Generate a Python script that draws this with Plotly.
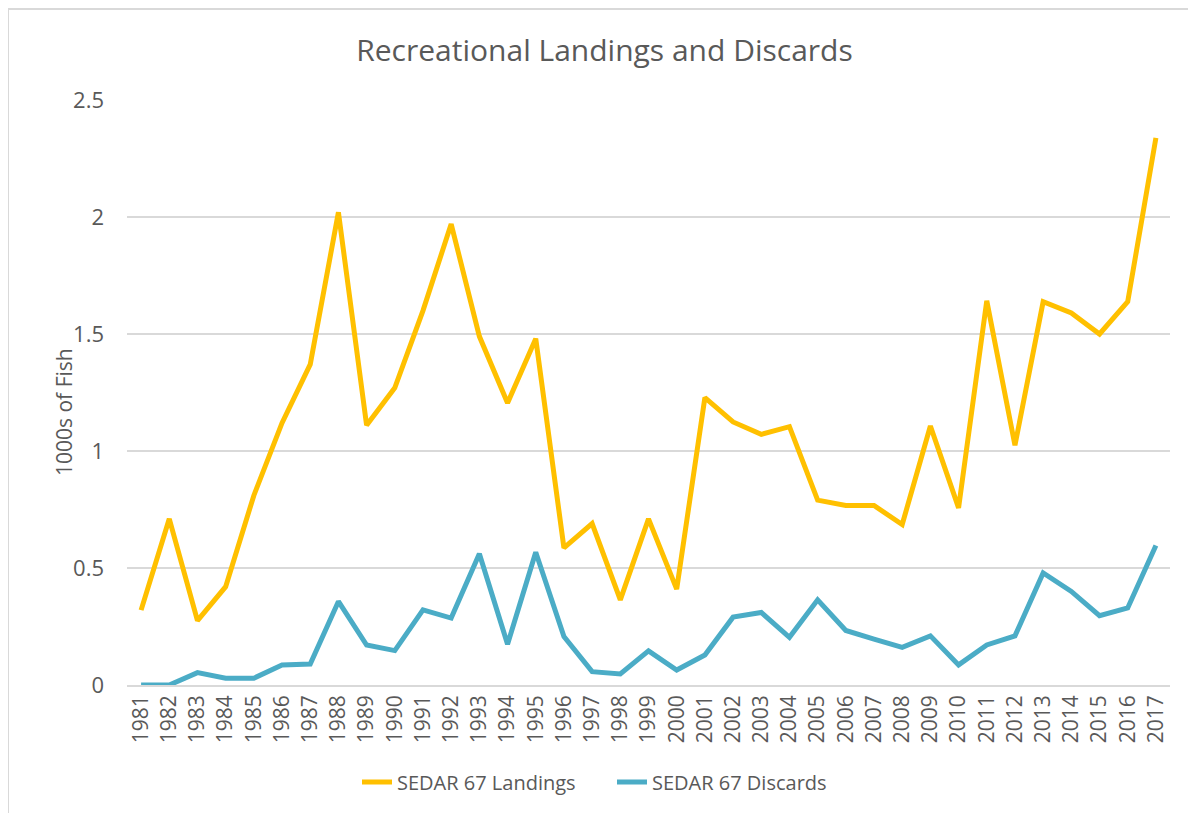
import plotly.graph_objects as go

years = list(range(1981, 2018))
landings = [0.32, 0.71, 0.275, 0.42, 0.81, 1.12, 1.37, 2.02, 1.11, 1.27, 1.60, 1.97, 1.49, 1.205,
            1.48, 0.586, 0.69, 0.364, 0.71, 0.41, 1.228, 1.124, 1.071, 1.104, 0.79, 0.767, 0.767,
            0.686, 1.107, 0.757, 1.642, 1.024, 1.638, 1.59, 1.50, 1.638, 2.338]
discards = [0.0, 0.0, 0.053, 0.029, 0.029, 0.086, 0.09, 0.357, 0.171, 0.147, 0.321, 0.286, 0.561,
            0.174, 0.567, 0.207, 0.057, 0.047, 0.146, 0.064, 0.128, 0.29, 0.31, 0.204, 0.364, 0.233,
            0.196, 0.161, 0.21, 0.086, 0.171, 0.21, 0.479, 0.40, 0.296, 0.329, 0.596]
y_ticks = [0, 0.5, 1, 1.5, 2, 2.5]
y_tick_text = ["0", "0.5", "1", "1.5", "2", "2.5"]

# page body has an 8px margin: figure coords = screen coords - 8
W, H = 1196, 813
L, T = 119, 92
PR, PB = 1162, 677
R, B = W - PR, H - PB
pw, ph = PR - L, PB - T

def px_x(x):
    return (x - L) / pw

def px_y(y):
    return (PB - y) / ph

fig = go.Figure()
fig.add_trace(go.Scatter(x=years, y=landings, mode="lines", name="SEDAR 67 Landings",
                         line=dict(color="#FFC000", width=5)))
fig.add_trace(go.Scatter(x=years, y=discards, mode="lines", name="SEDAR 67 Discards",
                         line=dict(color="#4BACC6", width=5)))

font_family = "Open Sans, Noto Sans, sans-serif"
fig.update_layout(
    width=W, height=H,
    margin=dict(l=L, r=R, t=T, b=B),
    paper_bgcolor="white", plot_bgcolor="white",
    title=dict(text="Recreational Landings and Discards", x=596.5 / W, xref="container",
               xanchor="center", y=1 - 42 / H, yref="container", yanchor="middle",
               font=dict(family=font_family, size=30, color="#595959")),
    font=dict(family=font_family, color="#595959"),
    xaxis=dict(range=[1980.5, 2017.5], tickmode="array", tickvals=years,
               ticktext=[str(y) for y in years], tickangle=-90,
               tickfont=dict(size=21, color="#595959"), showgrid=False,
               showline=True, linecolor="#D9D9D9", linewidth=1.5, ticks="", zeroline=False),
    yaxis=dict(range=[0, 2.5], tickmode="array", tickvals=y_ticks, ticktext=y_tick_text,
               tickfont=dict(size=22, color="#595959"), showgrid=True, gridcolor="#D9D9D9",
               gridwidth=1.5, zeroline=False, ticks="", ticklabelstandoff=22),
    legend=dict(orientation="h", x=604 / W, xref="container", xanchor="center",
                y=1 - 774 / H, yref="container", yanchor="middle",
                font=dict(size=20, color="#595959"), itemwidth=30,
                entrywidth=210, entrywidthmode="pixels"),
    showlegend=True,
)

fig.add_annotation(text="1000s of Fish", xref="paper", yref="paper", x=px_x(56), y=px_y(404),
                   textangle=-90, showarrow=False, xanchor="center", yanchor="middle",
                   font=dict(size=21, color="#595959"))

fig.add_shape(type="line", xref="paper", yref="paper", x0=px_x(0), x1=px_x(W), y0=px_y(1), y1=px_y(1),
              line=dict(color="#D9D9D9", width=2))
fig.add_shape(type="line", xref="paper", yref="paper", x0=px_x(0), x1=px_x(0), y0=px_y(1), y1=px_y(H),
              line=dict(color="#D9D9D9", width=2))

fig.write_html("out.html")
